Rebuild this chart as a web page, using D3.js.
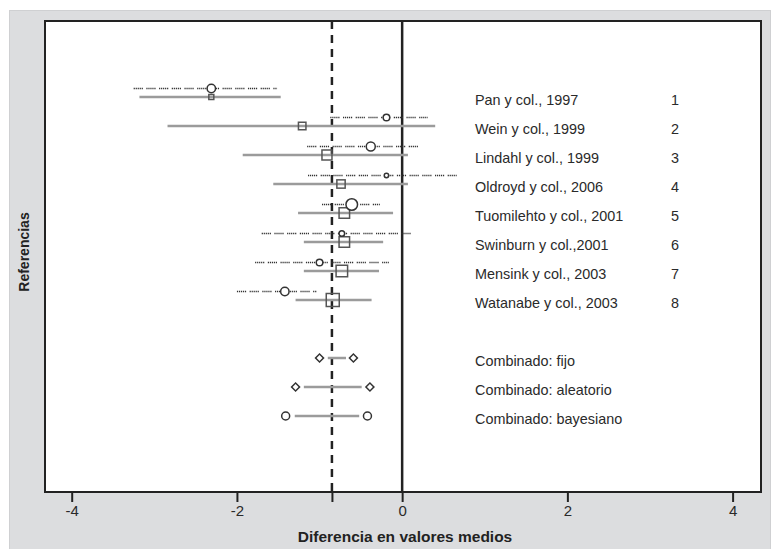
<!DOCTYPE html>
<html>
<head>
<meta charset="utf-8">
<script src="https://cdn.jsdelivr.net/npm/d3@7/dist/d3.min.js"></script>
<style>
  html, body { margin: 0; padding: 0; background: #ffffff; }
  svg { display: block; }
  text { font-family: "Liberation Sans", Arial, sans-serif; }
</style>
</head>
<body>
<script>
// ---------- data ----------
const studies = ["Pan y col., 1997", "Wein y col., 1999", "Lindahl y col., 1999", "Oldroyd y col., 2006",
                 "Tuomilehto y col., 2001", "Swinburn y col.,2001", "Mensink y col., 2003", "Watanabe y col., 2003"];
const studyNumbers = ["1", "2", "3", "4", "5", "6", "7", "8"];
// dotted interval (bayesian per-study) + circle estimate
const bayesMean = [-2.31, -0.19, -0.38, -0.19, -0.61, -0.73, -1.00, -1.42];
const bayesLow  = [-3.25, -0.87, -1.15, -1.14, -0.97, -1.70, -1.78, -2.00];
const bayesHigh = [-1.51,  0.31,  0.23,  0.66, -0.27,  0.12, -0.16, -1.03];
const bayesWeight = [4.2, 3.3, 4.5, 2.2, 5.8, 2.8, 3.3, 4.2];
// gray interval (observed) + square estimate
const obsMean = [-2.31, -1.21, -0.91, -0.74, -0.70, -0.70, -0.73, -0.84];
const obsLow  = [-3.18, -2.84, -1.93, -1.56, -1.26, -1.19, -1.19, -1.29];
const obsHigh = [-1.47,  0.40,  0.07,  0.07, -0.11, -0.23, -0.28, -0.37];
const obsWeight = [5, 7.5, 10, 8.3, 10.5, 10.5, 11.5, 13];
// combined estimates
const combinedLabels = ["Combinado: fijo", "Combinado: aleatorio", "Combinado: bayesiano"];
const combinedMarker = ["diamond", "diamond", "circle"];
const combinedLow  = [-0.90, -1.19, -1.30];
const combinedHigh = [-0.68, -0.49, -0.52];
const combinedMarkLow  = [-1.00, -1.29, -1.41];
const combinedMarkHigh = [-0.59, -0.39, -0.42];
const overallMean = -0.85;
const xTicks = [-4, -2, 0, 2, 4];
const xTitle = "Diferencia en valores medios";
const yTitle = "Referencias";

// ---------- layout ----------
const W = 775, H = 549;
const frame = {left: 45, top: 21, right: 761, bottom: 492};

const svg = d3.select("body").append("svg").attr("width", W).attr("height", H);

svg.append("rect").attr("x", 9.5).attr("y", 10.5).attr("width", 761).attr("height", 545)
  .attr("fill", "#dcdddf").attr("stroke", "#cfd0d2").attr("stroke-width", 1);

svg.append("rect").attr("x", frame.left).attr("y", frame.top)
  .attr("width", frame.right - frame.left).attr("height", frame.bottom - frame.top)
  .attr("fill", "#ffffff");

const x = d3.scaleLinear().domain([-4, 4]).range([71.7, 732.6]);
// row positions: studies 1..8, combined 10..12
const y = d3.scaleLinear().domain([1, 12]).range([97, 416]);
const sq = d3.scaleLinear().domain([0, 13]).range([0, 13]);
const rad = d3.scaleLinear().domain([0, 6]).range([0, 6]);

const g = svg.append("g");

// zero line
g.append("line").attr("x1", x(0)).attr("x2", x(0)).attr("y1", frame.top).attr("y2", frame.bottom)
  .attr("stroke", "#222").attr("stroke-width", 2.5);
// overall mean dashed line
g.append("line").attr("x1", x(overallMean)).attr("x2", x(overallMean)).attr("y1", frame.top).attr("y2", frame.bottom)
  .attr("stroke", "#222").attr("stroke-width", 2.5).attr("stroke-dasharray", "8,6");

const rows = studies.map((s, i) => ({i, r: i + 1}));

// gray observed intervals
g.selectAll("line.obs").data(rows).join("line").attr("class", "obs")
  .attr("x1", d => x(obsLow[d.i])).attr("x2", d => x(obsHigh[d.i]))
  .attr("y1", d => y(d.r)).attr("y2", d => y(d.r))
  .attr("stroke", "#9b9b9b").attr("stroke-width", 2.5);

// dotted bayesian intervals
g.selectAll("line.bay").data(rows).join("line").attr("class", "bay")
  .attr("x1", d => x(bayesLow[d.i])).attr("x2", d => x(bayesHigh[d.i]))
  .attr("y1", d => y(d.r) - 8.5).attr("y2", d => y(d.r) - 8.5)
  .attr("stroke", "#333").attr("stroke-width", 1.4)
  .attr("stroke-dasharray", "1.2,0.8,1.2,0.8,1.2,0.8,1.2,0.8,1.2,3.5");

// squares
g.selectAll("rect.sq").data(rows).join("rect").attr("class", "sq")
  .attr("x", d => x(obsMean[d.i]) - sq(obsWeight[d.i]) / 2)
  .attr("y", d => y(d.r) - sq(obsWeight[d.i]) / 2)
  .attr("width", d => sq(obsWeight[d.i])).attr("height", d => sq(obsWeight[d.i]))
  .attr("fill", "none").attr("stroke", "#555").attr("stroke-width", 1.5);

// circles
g.selectAll("circle.bc").data(rows).join("circle").attr("class", "bc")
  .attr("cx", d => x(bayesMean[d.i])).attr("cy", d => y(d.r) - 8.5)
  .attr("r", d => rad(bayesWeight[d.i]))
  .attr("fill", "#fff").attr("stroke", "#333").attr("stroke-width", 1.5);

// study labels
g.selectAll("text.lab").data(rows).join("text").attr("class", "lab")
  .attr("x", 475).attr("y", d => y(d.r) + 3).attr("dy", "0.35em")
  .attr("font-size", 14.4).attr("fill", "#2a2a2a").text(d => studies[d.i]);
g.selectAll("text.num").data(rows).join("text").attr("class", "num")
  .attr("x", 675).attr("y", d => y(d.r) + 3).attr("dy", "0.35em").attr("text-anchor", "middle")
  .attr("font-size", 14.4).attr("fill", "#2a2a2a").text(d => studyNumbers[d.i]);

// combined
const comb = combinedLabels.map((s, i) => ({i, r: 10 + i}));
g.selectAll("line.comb").data(comb).join("line").attr("class", "comb")
  .attr("x1", d => x(combinedLow[d.i])).attr("x2", d => x(combinedHigh[d.i]))
  .attr("y1", d => y(d.r)).attr("y2", d => y(d.r))
  .attr("stroke", "#9b9b9b").attr("stroke-width", 2.5);
const diamond = d3.symbol().type(d3.symbolSquare).size(32);
comb.forEach(d => {
  [combinedMarkLow[d.i], combinedMarkHigh[d.i]].forEach(v => {
    if (combinedMarker[d.i] === "diamond") {
      g.append("path").attr("d", diamond())
        .attr("transform", `translate(${x(v)},${y(d.r)}) rotate(45)`)
        .attr("fill", "#fff").attr("stroke", "#333").attr("stroke-width", 1.5);
    } else {
      g.append("circle").attr("cx", x(v)).attr("cy", y(d.r)).attr("r", 4)
        .attr("fill", "#fff").attr("stroke", "#333").attr("stroke-width", 1.5);
    }
  });
});
g.selectAll("text.clab").data(comb).join("text").attr("class", "clab")
  .attr("x", 475).attr("y", d => y(d.r) + 3).attr("dy", "0.35em")
  .attr("font-size", 14.4).attr("fill", "#2a2a2a").text(d => combinedLabels[d.i]);

// frame
svg.append("rect").attr("x", frame.left).attr("y", frame.top)
  .attr("width", frame.right - frame.left).attr("height", frame.bottom - frame.top)
  .attr("fill", "none").attr("stroke", "#222").attr("stroke-width", 2);

// x axis
const axis = d3.axisBottom(x).tickValues(xTicks.concat([overallMean])).tickSize(10).tickPadding(3)
  .tickFormat(d => xTicks.includes(d) ? d3.format("d")(d).replace("−", "-") : "");
const ax = svg.append("g").attr("transform", `translate(0,${frame.bottom})`).call(axis);
ax.select(".domain").remove();
ax.selectAll(".tick line").attr("stroke", "#222").attr("stroke-width", 2);
ax.selectAll(".tick text").attr("font-size", 15).attr("fill", "#2a2a2a")
  .attr("font-family", "'Liberation Sans', Arial, sans-serif");

svg.append("text").attr("x", 405).attr("y", 537).attr("dy", "0.35em").attr("text-anchor", "middle")
  .attr("font-size", 15.5).attr("font-weight", "bold").attr("fill", "#222").text(xTitle);
svg.append("text").attr("transform", "translate(24,252) rotate(-90)").attr("dy", "0.35em")
  .attr("text-anchor", "middle").attr("font-size", 14).attr("font-weight", "bold").attr("fill", "#222").text(yTitle);
</script>
</body>
</html>
